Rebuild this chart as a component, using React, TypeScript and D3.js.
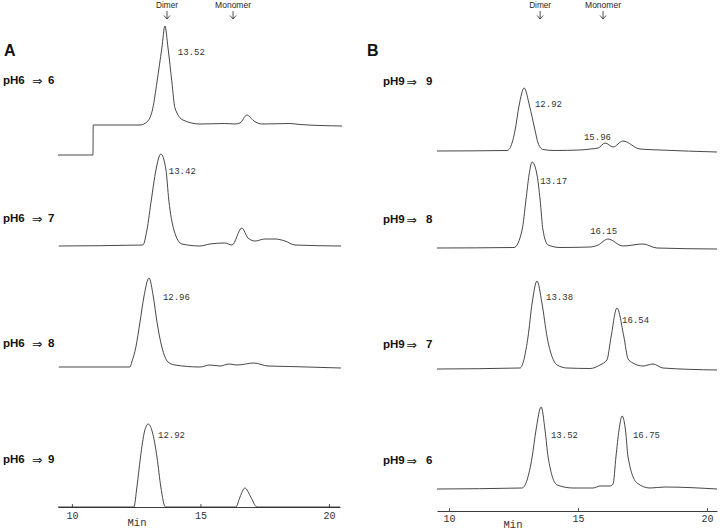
import React, { useRef, useEffect } from 'react';
import * as d3 from 'd3';

type Pt = [number, number];

// [retention time (min), detector signal (a.u. above the trace baseline)]
const pH6to6: Pt[] = [
  [9.46, -30], [10.82, -30], [10.83, 0], [12.65, 0], [12.92, 3], [13.15, 17], [13.31, 43], [13.5, 77],
  [13.62, 99], [13.74, 77], [13.89, 43], [14.01, 17], [14.32, 5], [14.98, 1], [15.95, 1.5], [16.34, 1],
  [16.54, 2], [16.81, 10], [17.08, 4], [17.39, 1], [18.48, 1.5], [18.87, 0.5], [20.51, -1],
];
const pH6to7: Pt[] = [
  [9.49, 0], [12.76, 1], [12.92, 16], [13.09, 46], [13.27, 76], [13.46, 92], [13.66, 76], [13.77, 46],
  [13.97, 16], [14.28, 2], [14.98, 0], [15.37, 2], [15.95, 3], [16.23, 1], [16.61, 18], [16.85, 8],
  [17.12, 5], [17.51, 7], [17.9, 7], [18.29, 5], [18.68, 1], [20.47, 0],
];
const pH6to8: Pt[] = [
  [9.49, 0], [12.26, 0], [12.33, 5], [12.49, 20], [12.65, 45], [12.8, 70], [13.0, 89], [13.17, 70],
  [13.31, 45], [13.5, 20], [13.74, 5], [14.01, 2], [14.98, 0], [15.37, 2], [15.76, 1], [16.11, 3],
  [16.42, 2], [17.08, 4], [17.63, 1], [18.48, 0.5], [20.47, -1],
];
const pH6to9: Pt[] = [
  [9.46, 0], [12.41, 0], [12.53, 20], [12.67, 50], [12.82, 75], [12.97, 83], [13.13, 75], [13.31, 50],
  [13.46, 20], [13.64, 0], [16.38, 0], [16.54, 10], [16.73, 19], [16.96, 10], [17.2, 0], [20.43, 0],
];
const pH9to9: Pt[] = [
  [9.53, 0], [12.25, 0.5], [12.44, 8], [12.56, 21], [12.71, 45], [12.91, 63], [13.12, 45], [13.33, 21],
  [13.45, 8], [13.64, 1.5], [14.11, 0.5], [15.08, 1], [15.47, 2], [15.78, 3], [16.05, 8], [16.36, 4],
  [16.74, 10], [17.4, 2], [18.18, 1], [20.39, -1],
];
const pH9to8: Pt[] = [
  [9.53, 0], [12.52, 0.5], [12.83, 18], [12.98, 48], [13.1, 73], [13.22, 86], [13.41, 73], [13.53, 48],
  [13.64, 18], [13.84, 3], [14.3, 0.5], [15.47, 1], [15.78, 3], [16.16, 9], [16.74, 2], [17.52, 4],
  [18.06, 0], [20.39, -1],
];
const pH9to7: Pt[] = [
  [9.53, 0], [12.75, 1], [13.06, 32], [13.22, 66], [13.41, 88], [13.6, 66], [13.8, 32], [14.19, 4],
  [14.57, 1], [15.47, 0.5], [15.85, 4], [16.12, 9], [16.28, 32], [16.51, 61], [16.78, 32], [16.94, 10],
  [17.13, 6], [17.52, 3], [17.91, 5], [18.29, 1], [20.39, -1],
];
const pH9to6: Pt[] = [
  [9.53, 0], [12.83, 1], [13.22, 32], [13.37, 59], [13.57, 82], [13.72, 59], [13.84, 32], [14.19, 4],
  [14.81, 1], [15.58, 1], [15.85, 3], [16.24, 3], [16.36, 5], [16.47, 32], [16.59, 59], [16.71, 73],
  [16.84, 59], [16.94, 32], [17.29, 6], [17.79, 1], [18.37, 2], [20.39, 0],
];

const targetsA = ['6', '7', '8', '9'];
const targetsB = ['9', '8', '7', '6'];

// printed retention times: [text, time, signal] where the label sits
const peaksA: [string, number, number][][] = [
  [['13.52', 14.12, 72]],
  [['13.42', 13.77, 74]],
  [['12.96', 13.54, 69]],
  [['12.92', 13.35, 71]],
];
const peaksB: [string, number, number][][] = [
  [['12.92', 13.33, 46], ['15.96', 15.23, 13]],
  [['13.17', 13.53, 66], ['16.15', 15.47, 16]],
  [['13.38', 13.76, 71], ['16.54', 16.71, 48]],
  [['13.52', 13.95, 53], ['16.75', 17.13, 53]],
];

const ticks = [10, 15, 20];
const markers = ['Dimer', 'Monomer'];

const panels = [
  {
    letter: 'A', from: 'pH6', traces: [pH6to6, pH6to7, pH6to8, pH6to9], targets: targetsA, peaks: peaksA,
    domain: [9.46, 20.43], range: [58, 340], axisY: 507, baselines: [125, 246, 367, 507],
    labelY: [80, 218, 343, 459], labelX: 3, arrowDx: 29, toDx: 45, letterX: 4,
    markerT: [13.7, 16.27], minX: 137, minY: 523, tickPad: 5,
  },
  {
    letter: 'B', from: 'pH9', traces: [pH9to9, pH9to8, pH9to7, pH9to6], targets: targetsB, peaks: peaksB,
    domain: [9.53, 20.39], range: [437, 717], axisY: 511, baselines: [151, 248, 369, 489],
    labelY: [81, 219, 344, 460], labelX: 383, arrowDx: 23.5, toDx: 43, letterX: 367,
    markerT: [13.53, 15.97], minX: 513, minY: 525, tickPad: 4,
  },
];

const ink = '#262626';
const mono = '"Liberation Mono", "DejaVu Sans Mono", monospace';
const sans = '"Liberation Sans", Arial, sans-serif';

const App = () => {
  const svgRef = useRef<SVGSVGElement>(null);

  useEffect(() => {
    const svg = d3.select(svgRef.current);
    svg.selectAll('*').remove();

    panels.forEach(p => {
      const x = d3.scaleLinear().domain(p.domain).range(p.range);
      const g = svg.append('g');

      // panel letter
      g.append('text').attr('x', p.letterX).attr('y', 56)
        .attr('font-family', sans).attr('font-weight', 'bold').attr('font-size', 16)
        .attr('fill', '#111').text(p.letter);

      // Dimer / Monomer markers
      markers.forEach((m, i) => {
        const mx = x(p.markerT[i]);
        g.append('text').attr('x', mx).attr('y', 8).attr('text-anchor', 'middle')
          .attr('font-family', sans).attr('font-size', 8.5).attr('fill', ink)
          .attr('textLength', m === 'Dimer' ? 22 : 36).attr('lengthAdjust', 'spacingAndGlyphs').text(m);
        g.append('path')
          .attr('d', `M${mx},11V19M${mx - 3},15.5L${mx},19L${mx + 3},15.5`)
          .attr('fill', 'none').attr('stroke', ink).attr('stroke-width', 0.8);
      });

      p.traces.forEach((tr, i) => {
        const base = p.baselines[i];
        const y = d3.scaleLinear().domain([0, 100]).range([base, base - 100]);
        const line = d3.line<Pt>().x(d => x(d[0])).y(d => y(d[1])).curve(d3.curveMonotoneX);

        g.append('path').attr('d', line(tr) || '')
          .attr('fill', 'none').attr('stroke', ink).attr('stroke-width', 0.85)
          .attr('stroke-linejoin', 'round');

        p.peaks[i].forEach(([txt, t, s]) => {
          g.append('text').attr('x', x(t)).attr('y', y(s)).attr('dominant-baseline', 'central')
            .attr('font-family', mono).attr('font-size', 9).attr('fill', '#333').text(txt);
        });

        const ly = p.labelY[i];
        const lab = g.append('text').attr('y', ly).attr('dominant-baseline', 'central')
          .attr('fill', '#111').attr('font-size', 11.5);
        lab.append('tspan').attr('x', p.labelX).attr('font-family', sans).attr('font-weight', 'bold').text(p.from);
        lab.append('tspan').attr('x', p.labelX + p.arrowDx).attr('font-family', '"DejaVu Sans", sans-serif')
          .attr('font-size', 12.5).text('\u21D2');
        lab.append('tspan').attr('x', p.labelX + p.toDx).attr('font-family', sans).attr('font-weight', 'bold')
          .text(p.targets[i]);
      });

      const axis = d3.axisBottom(x).tickValues(ticks).tickFormat(d3.format('d'))
        .tickSizeInner(-3).tickSizeOuter(0).tickPadding(p.tickPad);
      const ax = g.append('g').attr('transform', `translate(0,${p.axisY})`).call(axis);
      ax.select('.domain').attr('stroke', ink).attr('stroke-width', 0.9);
      ax.selectAll('.tick line').attr('stroke', ink).attr('stroke-width', 0.8);
      ax.selectAll('.tick text').attr('font-family', mono).attr('font-size', 10).attr('fill', '#333');

      g.append('text').attr('x', p.minX).attr('y', p.minY).attr('dominant-baseline', 'central')
        .attr('text-anchor', 'middle').attr('font-family', mono).attr('font-size', 10.5)
        .attr('fill', '#333').text('Min');
    });
  }, []);

  return (
    <svg ref={svgRef} width={720} height={530}
      style={{ position: 'absolute', left: 0, top: 0, background: '#fff' }} />
  );
};

export default App;
